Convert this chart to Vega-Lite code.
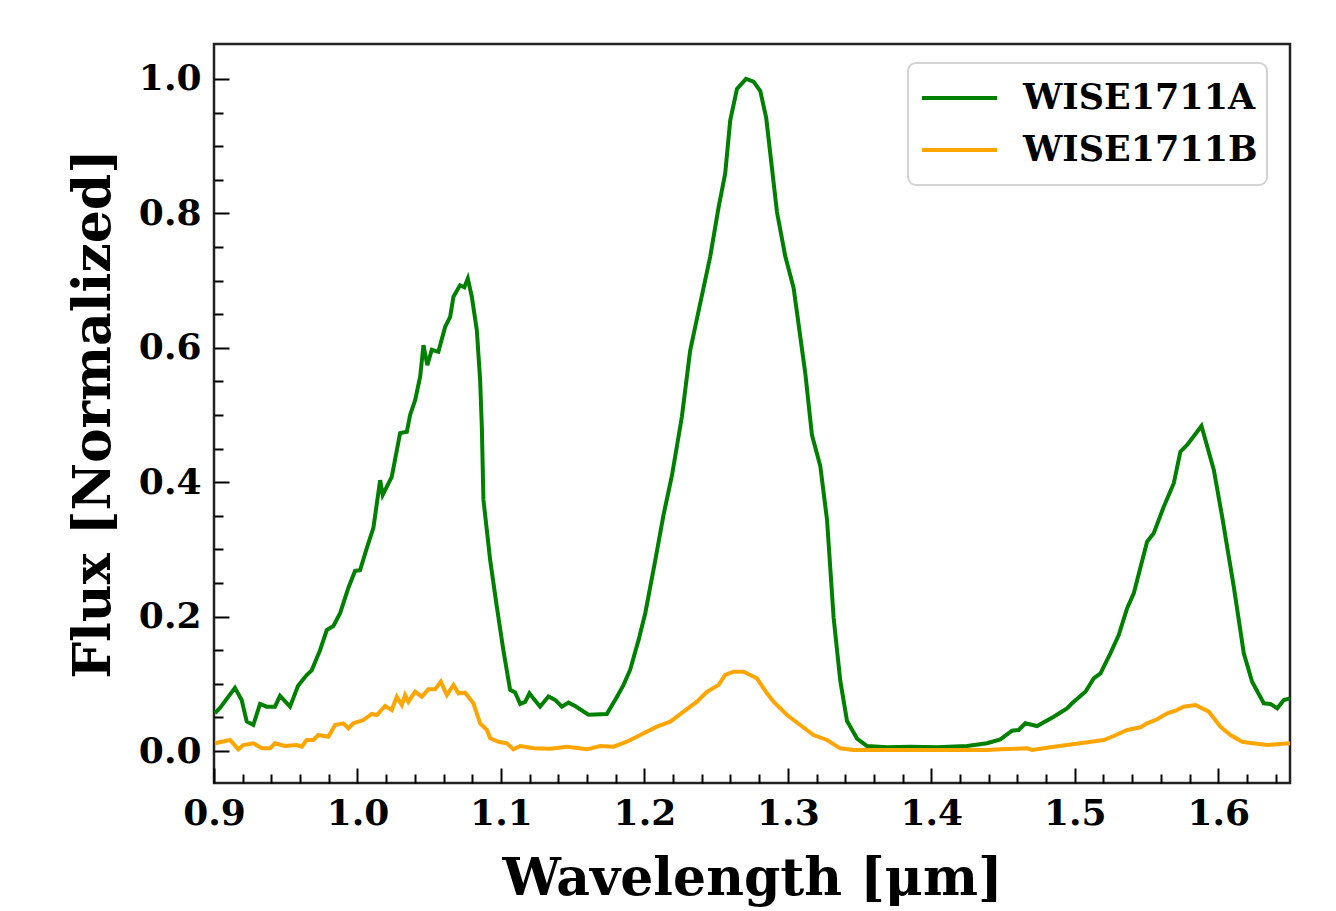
{
  "$schema": "https://vega.github.io/schema/vega-lite/v6.json",
  "width": 1076,
  "height": 739,
  "autosize": {"type": "none"},
  "padding": {"left": 214, "top": 44, "right": 46, "bottom": 128},
  "background": "white",
  "config": {
    "view": {"stroke": "#222222", "strokeWidth": 2.5},
    "font": "DejaVu Serif",
    "legend": {"strokeWidth": 2}
  },
  "datasets": {
    "spectra": [
      {"source": "WISE1711A", "wavelength": 0.9007, "flux": 0.0565},
      {"source": "WISE1711A", "wavelength": 0.9042, "flux": 0.064},
      {"source": "WISE1711A", "wavelength": 0.9146, "flux": 0.094},
      {"source": "WISE1711A", "wavelength": 0.9193, "flux": 0.076},
      {"source": "WISE1711A", "wavelength": 0.9228, "flux": 0.044},
      {"source": "WISE1711A", "wavelength": 0.9274, "flux": 0.039},
      {"source": "WISE1711A", "wavelength": 0.9321, "flux": 0.07},
      {"source": "WISE1711A", "wavelength": 0.9368, "flux": 0.066},
      {"source": "WISE1711A", "wavelength": 0.9425, "flux": 0.066},
      {"source": "WISE1711A", "wavelength": 0.946, "flux": 0.082},
      {"source": "WISE1711A", "wavelength": 0.953, "flux": 0.066},
      {"source": "WISE1711A", "wavelength": 0.9586, "flux": 0.097},
      {"source": "WISE1711A", "wavelength": 0.9646, "flux": 0.113},
      {"source": "WISE1711A", "wavelength": 0.9681, "flux": 0.12},
      {"source": "WISE1711A", "wavelength": 0.9739, "flux": 0.15},
      {"source": "WISE1711A", "wavelength": 0.9786, "flux": 0.18},
      {"source": "WISE1711A", "wavelength": 0.9832, "flux": 0.186},
      {"source": "WISE1711A", "wavelength": 0.9879, "flux": 0.205},
      {"source": "WISE1711A", "wavelength": 0.9937, "flux": 0.243},
      {"source": "WISE1711A", "wavelength": 0.9983, "flux": 0.268},
      {"source": "WISE1711A", "wavelength": 1.0018, "flux": 0.269},
      {"source": "WISE1711A", "wavelength": 1.0065, "flux": 0.302},
      {"source": "WISE1711A", "wavelength": 1.0111, "flux": 0.332},
      {"source": "WISE1711A", "wavelength": 1.0158, "flux": 0.403},
      {"source": "WISE1711A", "wavelength": 1.0176, "flux": 0.381},
      {"source": "WISE1711A", "wavelength": 1.0204, "flux": 0.393},
      {"source": "WISE1711A", "wavelength": 1.0239, "flux": 0.408},
      {"source": "WISE1711A", "wavelength": 1.0297, "flux": 0.473},
      {"source": "WISE1711A", "wavelength": 1.0344, "flux": 0.475},
      {"source": "WISE1711A", "wavelength": 1.0367, "flux": 0.5},
      {"source": "WISE1711A", "wavelength": 1.0402, "flux": 0.522},
      {"source": "WISE1711A", "wavelength": 1.0437, "flux": 0.557},
      {"source": "WISE1711A", "wavelength": 1.046, "flux": 0.604},
      {"source": "WISE1711A", "wavelength": 1.0487, "flux": 0.574},
      {"source": "WISE1711A", "wavelength": 1.0518, "flux": 0.597},
      {"source": "WISE1711A", "wavelength": 1.0564, "flux": 0.594},
      {"source": "WISE1711A", "wavelength": 1.0611, "flux": 0.631},
      {"source": "WISE1711A", "wavelength": 1.0646, "flux": 0.646},
      {"source": "WISE1711A", "wavelength": 1.0669, "flux": 0.676},
      {"source": "WISE1711A", "wavelength": 1.0715, "flux": 0.693},
      {"source": "WISE1711A", "wavelength": 1.0745, "flux": 0.69},
      {"source": "WISE1711A", "wavelength": 1.0769, "flux": 0.703},
      {"source": "WISE1711A", "wavelength": 1.0797, "flux": 0.676},
      {"source": "WISE1711A", "wavelength": 1.0832, "flux": 0.626},
      {"source": "WISE1711A", "wavelength": 1.0855, "flux": 0.552},
      {"source": "WISE1711A", "wavelength": 1.0867, "flux": 0.481},
      {"source": "WISE1711A", "wavelength": 1.0878, "flux": 0.374},
      {"source": "WISE1711A", "wavelength": 1.0925, "flux": 0.284},
      {"source": "WISE1711A", "wavelength": 1.0971, "flux": 0.215},
      {"source": "WISE1711A", "wavelength": 1.1017, "flux": 0.15},
      {"source": "WISE1711A", "wavelength": 1.1064, "flux": 0.091},
      {"source": "WISE1711A", "wavelength": 1.1099, "flux": 0.087},
      {"source": "WISE1711A", "wavelength": 1.1134, "flux": 0.07},
      {"source": "WISE1711A", "wavelength": 1.1169, "flux": 0.073},
      {"source": "WISE1711A", "wavelength": 1.1199, "flux": 0.086},
      {"source": "WISE1711A", "wavelength": 1.1227, "flux": 0.078},
      {"source": "WISE1711A", "wavelength": 1.1273, "flux": 0.066},
      {"source": "WISE1711A", "wavelength": 1.1331, "flux": 0.081},
      {"source": "WISE1711A", "wavelength": 1.1378, "flux": 0.076},
      {"source": "WISE1711A", "wavelength": 1.1425, "flux": 0.066},
      {"source": "WISE1711A", "wavelength": 1.1471, "flux": 0.072},
      {"source": "WISE1711A", "wavelength": 1.1517, "flux": 0.067},
      {"source": "WISE1711A", "wavelength": 1.161, "flux": 0.054},
      {"source": "WISE1711A", "wavelength": 1.1738, "flux": 0.055},
      {"source": "WISE1711A", "wavelength": 1.1796, "flux": 0.076},
      {"source": "WISE1711A", "wavelength": 1.1854, "flux": 0.098},
      {"source": "WISE1711A", "wavelength": 1.1901, "flux": 0.121},
      {"source": "WISE1711A", "wavelength": 1.1959, "flux": 0.165},
      {"source": "WISE1711A", "wavelength": 1.2006, "flux": 0.205},
      {"source": "WISE1711A", "wavelength": 1.2076, "flux": 0.284},
      {"source": "WISE1711A", "wavelength": 1.2133, "flux": 0.351},
      {"source": "WISE1711A", "wavelength": 1.2192, "flux": 0.41},
      {"source": "WISE1711A", "wavelength": 1.2261, "flux": 0.497},
      {"source": "WISE1711A", "wavelength": 1.2319, "flux": 0.596},
      {"source": "WISE1711A", "wavelength": 1.2366, "flux": 0.643},
      {"source": "WISE1711A", "wavelength": 1.2459, "flux": 0.736},
      {"source": "WISE1711A", "wavelength": 1.2517, "flux": 0.809},
      {"source": "WISE1711A", "wavelength": 1.2563, "flux": 0.859},
      {"source": "WISE1711A", "wavelength": 1.2598, "flux": 0.938},
      {"source": "WISE1711A", "wavelength": 1.2645, "flux": 0.985},
      {"source": "WISE1711A", "wavelength": 1.2708, "flux": 1.0},
      {"source": "WISE1711A", "wavelength": 1.2761, "flux": 0.996},
      {"source": "WISE1711A", "wavelength": 1.2808, "flux": 0.982},
      {"source": "WISE1711A", "wavelength": 1.2849, "flux": 0.942},
      {"source": "WISE1711A", "wavelength": 1.2924, "flux": 0.802},
      {"source": "WISE1711A", "wavelength": 1.2982, "flux": 0.736},
      {"source": "WISE1711A", "wavelength": 1.304, "flux": 0.689},
      {"source": "WISE1711A", "wavelength": 1.3121, "flux": 0.563},
      {"source": "WISE1711A", "wavelength": 1.3168, "flux": 0.47},
      {"source": "WISE1711A", "wavelength": 1.3226, "flux": 0.424},
      {"source": "WISE1711A", "wavelength": 1.3273, "flux": 0.344},
      {"source": "WISE1711A", "wavelength": 1.3319, "flux": 0.198},
      {"source": "WISE1711A", "wavelength": 1.3365, "flux": 0.105},
      {"source": "WISE1711A", "wavelength": 1.3412, "flux": 0.045},
      {"source": "WISE1711A", "wavelength": 1.3482, "flux": 0.0185},
      {"source": "WISE1711A", "wavelength": 1.3552, "flux": 0.0074},
      {"source": "WISE1711A", "wavelength": 1.3691, "flux": 0.0055},
      {"source": "WISE1711A", "wavelength": 1.3854, "flux": 0.0064},
      {"source": "WISE1711A", "wavelength": 1.404, "flux": 0.0055},
      {"source": "WISE1711A", "wavelength": 1.4249, "flux": 0.0074},
      {"source": "WISE1711A", "wavelength": 1.4388, "flux": 0.0115},
      {"source": "WISE1711A", "wavelength": 1.4481, "flux": 0.0174},
      {"source": "WISE1711A", "wavelength": 1.4563, "flux": 0.0302},
      {"source": "WISE1711A", "wavelength": 1.4609, "flux": 0.0313},
      {"source": "WISE1711A", "wavelength": 1.4655, "flux": 0.0412},
      {"source": "WISE1711A", "wavelength": 1.4737, "flux": 0.0372},
      {"source": "WISE1711A", "wavelength": 1.4853, "flux": 0.051},
      {"source": "WISE1711A", "wavelength": 1.4946, "flux": 0.0635},
      {"source": "WISE1711A", "wavelength": 1.4981, "flux": 0.071},
      {"source": "WISE1711A", "wavelength": 1.5074, "flux": 0.0882},
      {"source": "WISE1711A", "wavelength": 1.5132, "flux": 0.108},
      {"source": "WISE1711A", "wavelength": 1.5179, "flux": 0.1156},
      {"source": "WISE1711A", "wavelength": 1.5248, "flux": 0.1454},
      {"source": "WISE1711A", "wavelength": 1.5306, "flux": 0.1726},
      {"source": "WISE1711A", "wavelength": 1.5365, "flux": 0.2124},
      {"source": "WISE1711A", "wavelength": 1.5411, "flux": 0.2347},
      {"source": "WISE1711A", "wavelength": 1.5504, "flux": 0.3115},
      {"source": "WISE1711A", "wavelength": 1.555, "flux": 0.324},
      {"source": "WISE1711A", "wavelength": 1.562, "flux": 0.3635},
      {"source": "WISE1711A", "wavelength": 1.569, "flux": 0.3984},
      {"source": "WISE1711A", "wavelength": 1.5736, "flux": 0.4454},
      {"source": "WISE1711A", "wavelength": 1.5783, "flux": 0.4554},
      {"source": "WISE1711A", "wavelength": 1.5883, "flux": 0.4836},
      {"source": "WISE1711A", "wavelength": 1.5969, "flux": 0.4182},
      {"source": "WISE1711A", "wavelength": 1.6027, "flux": 0.3487},
      {"source": "WISE1711A", "wavelength": 1.6108, "flux": 0.2445},
      {"source": "WISE1711A", "wavelength": 1.6178, "flux": 0.1454},
      {"source": "WISE1711A", "wavelength": 1.6236, "flux": 0.1031},
      {"source": "WISE1711A", "wavelength": 1.6317, "flux": 0.071},
      {"source": "WISE1711A", "wavelength": 1.6364, "flux": 0.07},
      {"source": "WISE1711A", "wavelength": 1.6411, "flux": 0.0635},
      {"source": "WISE1711A", "wavelength": 1.6457, "flux": 0.0759},
      {"source": "WISE1711A", "wavelength": 1.65, "flux": 0.0784},
      {"source": "WISE1711B", "wavelength": 0.9007, "flux": 0.0115},
      {"source": "WISE1711B", "wavelength": 0.9112, "flux": 0.0164},
      {"source": "WISE1711B", "wavelength": 0.9169, "flux": 0.0025},
      {"source": "WISE1711B", "wavelength": 0.9204, "flux": 0.0089},
      {"source": "WISE1711B", "wavelength": 0.9274, "flux": 0.0115},
      {"source": "WISE1711B", "wavelength": 0.9333, "flux": 0.004},
      {"source": "WISE1711B", "wavelength": 0.9391, "flux": 0.004},
      {"source": "WISE1711B", "wavelength": 0.9425, "flux": 0.0115},
      {"source": "WISE1711B", "wavelength": 0.9495, "flux": 0.0074},
      {"source": "WISE1711B", "wavelength": 0.9577, "flux": 0.0089},
      {"source": "WISE1711B", "wavelength": 0.9612, "flux": 0.0064},
      {"source": "WISE1711B", "wavelength": 0.9646, "flux": 0.0164},
      {"source": "WISE1711B", "wavelength": 0.9692, "flux": 0.0164},
      {"source": "WISE1711B", "wavelength": 0.9727, "flux": 0.0238},
      {"source": "WISE1711B", "wavelength": 0.9797, "flux": 0.0213},
      {"source": "WISE1711B", "wavelength": 0.9844, "flux": 0.0387},
      {"source": "WISE1711B", "wavelength": 0.9902, "flux": 0.0412},
      {"source": "WISE1711B", "wavelength": 0.9937, "flux": 0.0338},
      {"source": "WISE1711B", "wavelength": 0.9971, "flux": 0.0412},
      {"source": "WISE1711B", "wavelength": 1.0041, "flux": 0.0461},
      {"source": "WISE1711B", "wavelength": 1.01, "flux": 0.0551},
      {"source": "WISE1711B", "wavelength": 1.0135, "flux": 0.0536},
      {"source": "WISE1711B", "wavelength": 1.0192, "flux": 0.067},
      {"source": "WISE1711B", "wavelength": 1.0239, "flux": 0.061},
      {"source": "WISE1711B", "wavelength": 1.0274, "flux": 0.0808},
      {"source": "WISE1711B", "wavelength": 1.0309, "flux": 0.0685},
      {"source": "WISE1711B", "wavelength": 1.0332, "flux": 0.0833},
      {"source": "WISE1711B", "wavelength": 1.0355, "flux": 0.0734},
      {"source": "WISE1711B", "wavelength": 1.0402, "flux": 0.0882},
      {"source": "WISE1711B", "wavelength": 1.0448, "flux": 0.0808},
      {"source": "WISE1711B", "wavelength": 1.0494, "flux": 0.0918},
      {"source": "WISE1711B", "wavelength": 1.0541, "flux": 0.0918},
      {"source": "WISE1711B", "wavelength": 1.0581, "flux": 0.1031},
      {"source": "WISE1711B", "wavelength": 1.0623, "flux": 0.0833},
      {"source": "WISE1711B", "wavelength": 1.0669, "flux": 0.0982},
      {"source": "WISE1711B", "wavelength": 1.0704, "flux": 0.0858},
      {"source": "WISE1711B", "wavelength": 1.075, "flux": 0.0868},
      {"source": "WISE1711B", "wavelength": 1.0808, "flux": 0.071},
      {"source": "WISE1711B", "wavelength": 1.0855, "flux": 0.0412},
      {"source": "WISE1711B", "wavelength": 1.0902, "flux": 0.0313},
      {"source": "WISE1711B", "wavelength": 1.0925, "flux": 0.0189},
      {"source": "WISE1711B", "wavelength": 1.0983, "flux": 0.0138},
      {"source": "WISE1711B", "wavelength": 1.1041, "flux": 0.0115},
      {"source": "WISE1711B", "wavelength": 1.1087, "flux": 0.0025},
      {"source": "WISE1711B", "wavelength": 1.1134, "flux": 0.0074},
      {"source": "WISE1711B", "wavelength": 1.1227, "flux": 0.004},
      {"source": "WISE1711B", "wavelength": 1.1343, "flux": 0.0034},
      {"source": "WISE1711B", "wavelength": 1.146, "flux": 0.0064},
      {"source": "WISE1711B", "wavelength": 1.1599, "flux": 0.0025},
      {"source": "WISE1711B", "wavelength": 1.1692, "flux": 0.0074},
      {"source": "WISE1711B", "wavelength": 1.1785, "flux": 0.0064},
      {"source": "WISE1711B", "wavelength": 1.1878, "flux": 0.0138},
      {"source": "WISE1711B", "wavelength": 1.1971, "flux": 0.0238},
      {"source": "WISE1711B", "wavelength": 1.2087, "flux": 0.0362},
      {"source": "WISE1711B", "wavelength": 1.218, "flux": 0.0436},
      {"source": "WISE1711B", "wavelength": 1.2273, "flux": 0.0585},
      {"source": "WISE1711B", "wavelength": 1.2366, "flux": 0.0734},
      {"source": "WISE1711B", "wavelength": 1.2436, "flux": 0.0882},
      {"source": "WISE1711B", "wavelength": 1.2517, "flux": 0.0982},
      {"source": "WISE1711B", "wavelength": 1.2563, "flux": 0.1131},
      {"source": "WISE1711B", "wavelength": 1.2621, "flux": 0.118},
      {"source": "WISE1711B", "wavelength": 1.2691, "flux": 0.118},
      {"source": "WISE1711B", "wavelength": 1.2784, "flux": 0.1082},
      {"source": "WISE1711B", "wavelength": 1.2854, "flux": 0.0858},
      {"source": "WISE1711B", "wavelength": 1.29, "flux": 0.0734},
      {"source": "WISE1711B", "wavelength": 1.2994, "flux": 0.0536},
      {"source": "WISE1711B", "wavelength": 1.3086, "flux": 0.0387},
      {"source": "WISE1711B", "wavelength": 1.3179, "flux": 0.0238},
      {"source": "WISE1711B", "wavelength": 1.3273, "flux": 0.0164},
      {"source": "WISE1711B", "wavelength": 1.3365, "flux": 0.004},
      {"source": "WISE1711B", "wavelength": 1.3458, "flux": 0.0015},
      {"source": "WISE1711B", "wavelength": 1.3691, "flux": 0.0015},
      {"source": "WISE1711B", "wavelength": 1.404, "flux": 0.0015},
      {"source": "WISE1711B", "wavelength": 1.4388, "flux": 0.0015},
      {"source": "WISE1711B", "wavelength": 1.4481, "flux": 0.0025},
      {"source": "WISE1711B", "wavelength": 1.4667, "flux": 0.004},
      {"source": "WISE1711B", "wavelength": 1.4702, "flux": 0.0015},
      {"source": "WISE1711B", "wavelength": 1.483, "flux": 0.0055},
      {"source": "WISE1711B", "wavelength": 1.4946, "flux": 0.0089},
      {"source": "WISE1711B", "wavelength": 1.5062, "flux": 0.0124},
      {"source": "WISE1711B", "wavelength": 1.5202, "flux": 0.0164},
      {"source": "WISE1711B", "wavelength": 1.5271, "flux": 0.0223},
      {"source": "WISE1711B", "wavelength": 1.5365, "flux": 0.0313},
      {"source": "WISE1711B", "wavelength": 1.5458, "flux": 0.0353},
      {"source": "WISE1711B", "wavelength": 1.5504, "flux": 0.0412},
      {"source": "WISE1711B", "wavelength": 1.5574, "flux": 0.0472},
      {"source": "WISE1711B", "wavelength": 1.5644, "flux": 0.0561},
      {"source": "WISE1711B", "wavelength": 1.5702, "flux": 0.06},
      {"source": "WISE1711B", "wavelength": 1.5759, "flux": 0.0659},
      {"source": "WISE1711B", "wavelength": 1.5841, "flux": 0.0685},
      {"source": "WISE1711B", "wavelength": 1.5934, "flux": 0.0585},
      {"source": "WISE1711B", "wavelength": 1.6015, "flux": 0.0362},
      {"source": "WISE1711B", "wavelength": 1.6085, "flux": 0.0238},
      {"source": "WISE1711B", "wavelength": 1.6167, "flux": 0.0138},
      {"source": "WISE1711B", "wavelength": 1.6213, "flux": 0.0124},
      {"source": "WISE1711B", "wavelength": 1.6341, "flux": 0.0089},
      {"source": "WISE1711B", "wavelength": 1.65, "flux": 0.0115}
    ]
  },
  "data": {"name": "spectra"},
  "mark": {"type": "line", "strokeWidth": 4, "interpolate": "linear", "clip": true},
  "encoding": {
    "x": {
      "field": "wavelength",
      "type": "quantitative",
      "scale": {"domain": [0.9, 1.65], "nice": false, "zero": false},
      "axis": {
        "title": "Wavelength [μm]",
        "titleFont": "DejaVu Serif",
        "titleFontSize": 52,
        "titleFontWeight": "bold",
        "titleColor": "black",
        "titlePadding": 16,
        "labelFont": "DejaVu Serif",
        "labelFontSize": 36,
        "labelFontWeight": "bold",
        "labelColor": "black",
        "labelPadding": 28,
        "labelFlush": false,
        "labelOverlap": false,
        "domain": false,
        "grid": false,
        "values": [0.9, 0.92, 0.94, 0.96, 0.98, 1.0, 1.02, 1.04, 1.06, 1.08, 1.1, 1.12, 1.14, 1.16, 1.18, 1.2, 1.22, 1.24, 1.26, 1.28, 1.3, 1.32, 1.34, 1.36, 1.38, 1.4, 1.42, 1.44, 1.46, 1.48, 1.5, 1.52, 1.54, 1.56, 1.58, 1.6, 1.62, 1.64],
        "labelExpr": "abs(datum.value*10 - round(datum.value*10)) < 0.001 ? format(datum.value, '.1f') : ''",
        "tickSize": {"condition": {"test": "abs(datum.value*10 - round(datum.value*10)) < 0.001", "value": -15}, "value": -9},
        "tickWidth": 2,
        "tickColor": "black"
      }
    },
    "y": {
      "field": "flux",
      "type": "quantitative",
      "scale": {"domain": [-0.0476, 1.052], "nice": false, "zero": false},
      "axis": {
        "title": "Flux [Normalized]",
        "titleFont": "DejaVu Serif",
        "titleFontSize": 52,
        "titleFontWeight": "bold",
        "titleColor": "black",
        "titlePadding": 18,
        "labelFont": "DejaVu Serif",
        "labelFontSize": 36,
        "labelFontWeight": "bold",
        "labelColor": "black",
        "labelPadding": 28,
        "labelFlush": false,
        "labelOverlap": false,
        "domain": false,
        "grid": false,
        "values": [0.0, 0.05, 0.1, 0.15, 0.2, 0.25, 0.3, 0.35, 0.4, 0.45, 0.5, 0.55, 0.6, 0.65, 0.7, 0.75, 0.8, 0.85, 0.9, 0.95, 1.0],
        "labelExpr": "abs(datum.value*5 - round(datum.value*5)) < 0.001 ? format(datum.value, '.1f') : ''",
        "tickSize": {"condition": {"test": "abs(datum.value*5 - round(datum.value*5)) < 0.001", "value": -15}, "value": -9},
        "tickWidth": 2,
        "tickColor": "black"
      }
    },
    "color": {
      "field": "source",
      "type": "nominal",
      "scale": {"domain": ["WISE1711A", "WISE1711B"], "range": ["#008000", "#FFA500"]},
      "legend": {
        "title": null,
        "orient": "none",
        "legendX": 694,
        "legendY": 19,
        "symbolType": "stroke",
        "symbolSize": 5625,
        "symbolStrokeWidth": 4,
        "symbolOffset": 3,
        "clipHeight": 52,
        "rowPadding": 0,
        "padding": 9,
        "labelFont": "DejaVu Serif",
        "labelFontSize": 35,
        "labelFontWeight": "bold",
        "labelColor": "black",
        "labelOffset": 24,
        "labelLimit": 500,
        "fillColor": "white",
        "strokeColor": "#d3d3d3",
        "cornerRadius": 8
      }
    }
  }
}
